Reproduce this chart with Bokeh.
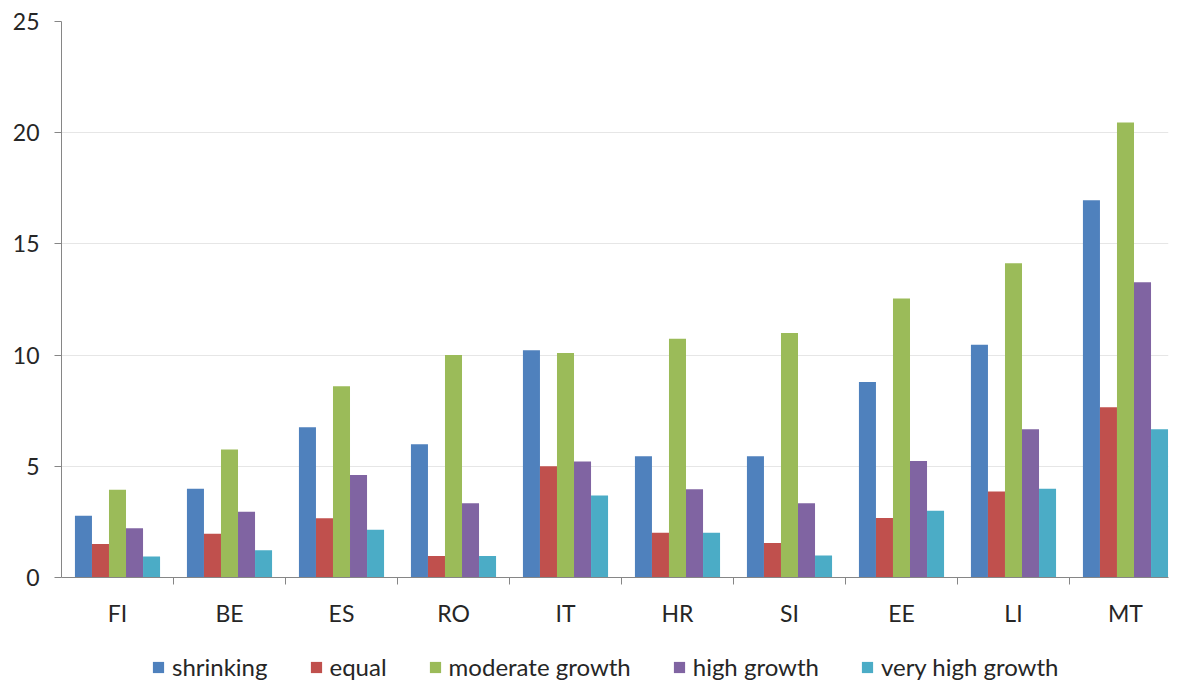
import numpy as np
from bokeh.plotting import figure
from bokeh.layouts import column
from bokeh.models import FixedTicker, Range1d, Legend
from bokeh.embed import file_html
from bokeh.resources import INLINE

countries = ["FI", "BE", "ES", "RO", "IT", "HR", "SI", "EE", "LI", "MT"]
series = ["shrinking", "equal", "moderate growth", "high growth", "very high growth"]

shrinking = [2.78, 3.99, 6.76, 5.99, 10.22, 5.45, 5.45, 8.79, 10.46, 16.96]
equal = [1.51, 1.97, 2.66, 0.97, 5.0, 2.01, 1.55, 2.67, 3.87, 7.66]
moderate_growth = [3.94, 5.76, 8.6, 10.0, 10.1, 10.73, 10.99, 12.54, 14.13, 20.46]
high_growth = [2.22, 2.96, 4.61, 3.34, 5.22, 3.97, 3.34, 5.24, 6.67, 13.28]
very_high_growth = [0.94, 1.22, 2.15, 0.97, 3.69, 2.01, 0.99, 3.0, 3.99, 6.67]

values = [shrinking, equal, moderate_growth, high_growth, very_high_growth]
colors = ["#4F81BD", "#C0504D", "#9BBB59", "#8064A2", "#4BACC6"]

FONT = "Lato"
TXT = "#262626"

bar_w = 0.152
centers = np.arange(len(countries)) + 0.5

p = figure(frame_width=1107, frame_height=556,
           x_range=Range1d(0, 9.884), y_range=Range1d(0, 25),
           output_backend="svg", toolbar_location=None,
           min_border_left=61, min_border_right=2, min_border_top=21, min_border_bottom=0)
p.outline_line_color = None

for k, vals in enumerate(values):
    x = centers + (k - 2) * bar_w
    p.vbar(x=x, top=vals, width=bar_w, bottom=0, fill_color=colors[k], line_color=None)

# y axis
p.yaxis.ticker = FixedTicker(ticks=[0, 5, 10, 15, 20, 25])
p.yaxis.minor_tick_line_color = None
p.yaxis.major_tick_in = 0
p.yaxis.major_tick_out = 7
p.yaxis.axis_line_color = "#868686"
p.yaxis.major_tick_line_color = "#868686"
p.yaxis.major_label_text_font = FONT
p.yaxis.major_label_text_font_size = "23px"
p.yaxis.major_label_text_color = TXT
p.yaxis.major_label_standoff = 15

# x axis: labels at group centres, tick marks between groups
p.xaxis.ticker = FixedTicker(ticks=list(centers), minor_ticks=list(range(1, len(countries))))
p.xaxis.major_label_overrides = {float(c): lab for c, lab in zip(centers, countries)}
p.xaxis.major_tick_line_color = None
p.xaxis.minor_tick_in = 0
p.xaxis.minor_tick_out = 7
p.xaxis.minor_tick_line_color = "#868686"
p.xaxis.axis_line_color = "#868686"
p.xaxis.major_label_text_font = FONT
p.xaxis.major_label_text_font_size = "23px"
p.xaxis.major_label_text_color = TXT
p.xaxis.major_label_standoff = 14

p.xgrid.grid_line_color = None
p.ygrid.ticker = FixedTicker(ticks=[5, 10, 15, 20, 25])
p.ygrid.grid_line_color = "#e6e6e6"

# legend lives in a small strip under the chart (frame aligned with the chart's frame)
leg = figure(width=1170, height=56, x_range=Range1d(0, 1), y_range=Range1d(0, 1),
             x_axis_type=None, y_axis_type=None, output_backend="svg", toolbar_location=None,
             min_border=0)
leg.outline_line_color = None
leg.xgrid.grid_line_color = None
leg.ygrid.grid_line_color = None
items = []
for name, c in zip(series, colors):
    # zero-width stand-in outside the view so the legend has a swatch to draw
    r = leg.vbar(x=[0.5], top=[-2], bottom=[-3], width=0, fill_color=c, line_color=None)
    items.append((name, [r]))
legend = Legend(items=items, orientation="horizontal", location=(90, 4),
                label_text_font=FONT, label_text_font_size="24px", label_text_color=TXT,
                glyph_width=14, glyph_height=14, label_standoff=7, spacing=41,
                padding=0, margin=0, border_line_color=None, background_fill_alpha=0)
leg.add_layout(legend)

layout = column(p, leg, spacing=0)
open("out.html", "w").write(file_html(layout, INLINE))
